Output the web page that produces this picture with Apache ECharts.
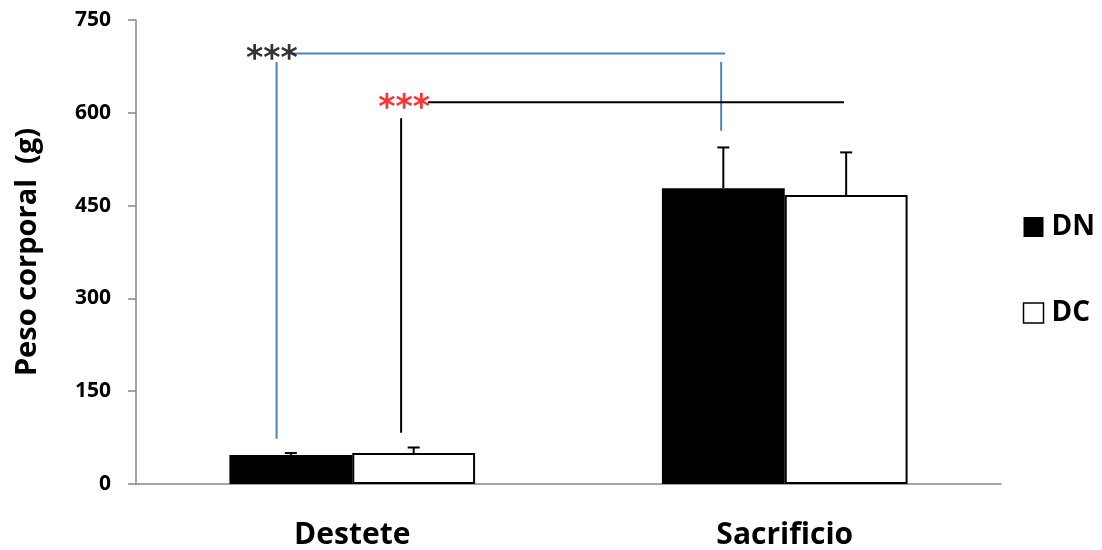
<!DOCTYPE html>
<html>
<head>
<meta charset="utf-8">
<script src="https://cdn.jsdelivr.net/npm/echarts@6/dist/echarts.min.js"></script>
<style>
  html, body { margin: 0; padding: 0; background: #fff; }
  #chart { width: 1102px; height: 550px; }
</style>
</head>
<body>
<div id="chart"></div>
<script>
const categories = ['Destete', 'Sacrificio']
const dnValues = [47, 478]
const dcValues = [50, 467]
const dnErrors = [3, 66]
const dcErrors = [9, 69]
const yTicks = [0, 150, 300, 450, 600, 750]

// significance brackets, x in category units (0..2 across the axis), y in grams
const blueBracket = [[0.325, 73], [0.325, 682], null, [0.36, 696], [1.362, 696], null, [1.353, 682], [1.353, 571]]
const blackBracket = [[0.613, 83], [0.613, 591], null, [0.675, 617], [1.637, 617]]
const stars = [[0.314, 696, '#000'], [0.62, 617, '#ff0000']]

const FONT = 'Open Sans'
const chart = echarts.init(document.getElementById('chart'))

function toLine(points) {
  return points.map(p => (p ? p : ['-', '-']))
}

chart.setOption({
  animation: false,
  grid: { left: 136, right: 101, top: 20, bottom: 66 },
  legend: {
    orient: 'vertical',
    right: 2,
    top: 208,
    itemGap: 58,
    itemWidth: 20,
    itemHeight: 20,
    icon: 'rect',
    textStyle: { fontFamily: FONT, fontWeight: 'bold', fontSize: 28, color: '#000', padding: [0, 0, 0, 3] },
    data: [
      { name: 'DN', itemStyle: { color: '#000' } },
      { name: 'DC', itemStyle: { color: '#fff', borderColor: '#000', borderWidth: 1.5 } },
    ],
  },
  xAxis: [
    {
      type: 'category',
      data: categories,
      axisLine: { lineStyle: { color: '#868686', width: 1.5 } },
      axisTick: { length: 8, lineStyle: { color: '#868686', width: 1.5 } },
      axisLabel: { fontFamily: FONT, fontWeight: 'bold', fontSize: 30, color: '#000', margin: 36 },
    },
    { type: 'value', min: 0, max: 2, show: false },
  ],
  yAxis: {
    type: 'value',
    min: 0,
    max: 750,
    interval: 150,
    name: 'Peso corporal  (g)',
    nameLocation: 'middle',
    nameGap: 94,
    nameTextStyle: { fontFamily: FONT, fontWeight: 'bold', fontSize: 29, color: '#000' },
    splitLine: { show: false },
    axisLine: { show: true, lineStyle: { color: '#868686', width: 1.5 } },
    axisTick: { show: true, length: 8, lineStyle: { color: '#868686', width: 1.5 } },
    axisLabel: {
      fontFamily: FONT, fontWeight: 'bold', fontSize: 21, color: '#000', margin: 25,
      formatter: v => (yTicks.includes(v) ? String(v) : ''),
    },
  },
  series: [
    {
      name: 'DN',
      type: 'bar',
      data: dnValues,
      barWidth: '28.4%',
      barGap: 0,
      itemStyle: { color: '#000' },
    },
    {
      name: 'DC',
      type: 'bar',
      data: dcValues,
      barWidth: '28.4%',
      barGap: 0,
      itemStyle: { color: '#fff', borderColor: '#000', borderWidth: 2 },
    },
    {
      type: 'custom',
      silent: true,
      z: 5,
      data: categories.map((c, i) => [i, dnValues[i], dnErrors[i], dcValues[i], dcErrors[i]]),
      renderItem: function (params, api) {
        const i = api.value(0)
        const bw = api.size([1, 0])[0] * 0.284
        const children = []
        const pairs = [[api.value(1), api.value(2), -bw / 2], [api.value(3), api.value(4), bw / 2]]
        pairs.forEach(([v, e, off]) => {
          const base = api.coord([i, v])
          const top = api.coord([i, v + e])
          const x = base[0] + off
          const st = { stroke: '#000', lineWidth: 2 }
          children.push({ type: 'line', shape: { x1: x, y1: base[1], x2: x, y2: top[1] }, style: st })
          children.push({ type: 'line', shape: { x1: x - 6, y1: top[1], x2: x + 6, y2: top[1] }, style: st })
        })
        return { type: 'group', children }
      },
    },
    {
      type: 'line',
      xAxisIndex: 1,
      data: toLine(blueBracket),
      symbol: 'none',
      connectNulls: false,
      lineStyle: { color: '#4f81bd', width: 2 },
      silent: true,
    },
    {
      type: 'line',
      xAxisIndex: 1,
      data: toLine(blackBracket),
      symbol: 'none',
      connectNulls: false,
      lineStyle: { color: '#000', width: 2 },
      silent: true,
    },
    {
      type: 'scatter',
      xAxisIndex: 1,
      symbolSize: 0,
      silent: true,
      z: 6,
      data: stars.map(s => ({
        value: [s[0], s[1]],
        label: {
          show: true,
          position: 'inside',
          formatter: '***',
          color: s[2],
          fontFamily: 'DejaVu Sans',
          fontWeight: 'bold',
          fontSize: 33,
          offset: [0, 7],
        },
      })),
    },
  ],
})
</script>
</body>
</html>
